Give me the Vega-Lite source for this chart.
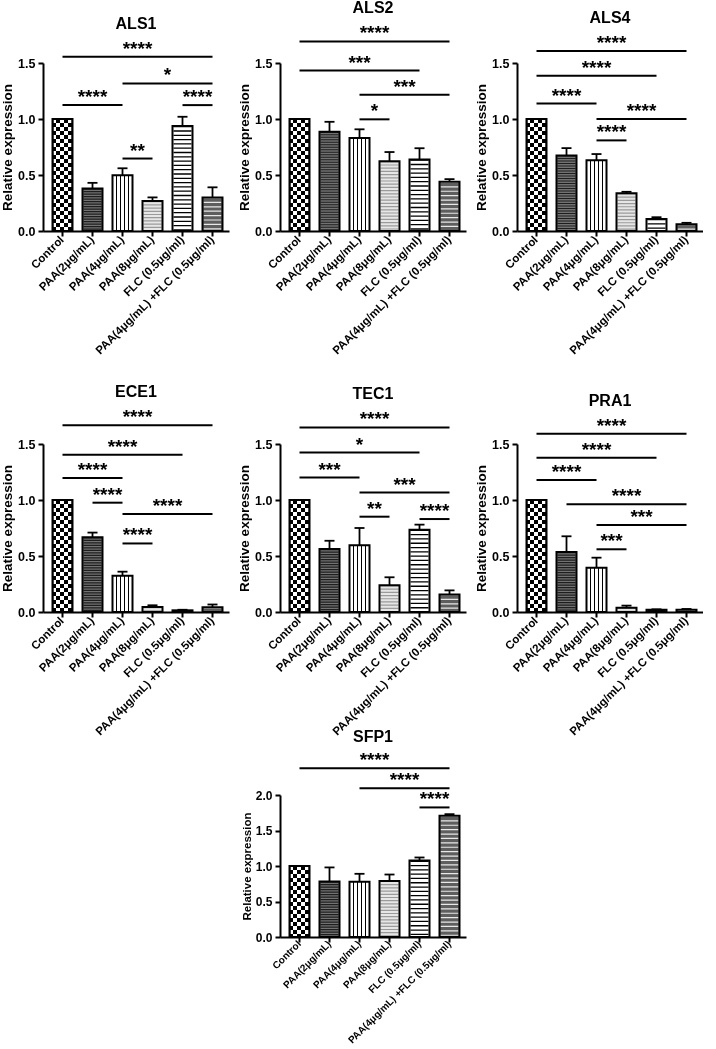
{
  "$schema": "https://vega.github.io/schema/vega-lite/v6.json",
  "padding": {"left": 0, "top": 0, "right": 0, "bottom": 0},
  "config": {
    "font": "Liberation Sans",
    "view": {"stroke": null},
    "axis": {"domainColor": "#000", "domainWidth": 2, "tickColor": "#000", "tickWidth": 2, "tickSize": 5, "labelColor": "#000", "labelFontWeight": "bold", "titleColor": "#000", "titleFontWeight": "bold", "grid": false, "labelOverlap": false},
    "axisX": {"labelAngle": -45, "labelFontSize": 11.5, "labelPadding": 2, "labelAlign": "right", "labelBaseline": "middle", "labelLimit": 220},
    "axisY": {"labelFontSize": 12.5, "titleFontSize": 13.5, "labelPadding": 3, "titlePadding": 3, "labelOverlap": false},
    "header": {"labelFontSize": 16, "labelFontWeight": "bold", "labelColor": "#000", "labelPadding": 8},
    "title": {"fontSize": 16, "fontWeight": "bold", "color": "#000"}
  },
  "datasets": {
    "main": [
      {"kind": "bar", "gene": "ALS1", "group": "Control", "value": 1, "hi": 1},
      {"kind": "bar", "gene": "ALS1", "group": "PAA(2μg/mL)", "value": 0.38, "hi": 0.43},
      {"kind": "bar", "gene": "ALS1", "group": "PAA(4μg/mL)", "value": 0.497, "hi": 0.56},
      {"kind": "bar", "gene": "ALS1", "group": "PAA(8μg/mL)", "value": 0.267, "hi": 0.30},
      {"kind": "bar", "gene": "ALS1", "group": "FLC (0.5μg/ml)", "value": 0.937, "hi": 1.02},
      {"kind": "bar", "gene": "ALS1", "group": "PAA(4μg/mL) +FLC (0.5μg/ml)", "value": 0.30, "hi": 0.39},
      {"kind": "bar", "gene": "ALS2", "group": "Control", "value": 1, "hi": 1},
      {"kind": "bar", "gene": "ALS2", "group": "PAA(2μg/mL)", "value": 0.887, "hi": 0.975},
      {"kind": "bar", "gene": "ALS2", "group": "PAA(4μg/mL)", "value": 0.83, "hi": 0.908},
      {"kind": "bar", "gene": "ALS2", "group": "PAA(8μg/mL)", "value": 0.623, "hi": 0.705},
      {"kind": "bar", "gene": "ALS2", "group": "FLC (0.5μg/ml)", "value": 0.638, "hi": 0.739},
      {"kind": "bar", "gene": "ALS2", "group": "PAA(4μg/mL) +FLC (0.5μg/ml)", "value": 0.439, "hi": 0.463},
      {"kind": "bar", "gene": "ALS4", "group": "Control", "value": 1, "hi": 1},
      {"kind": "bar", "gene": "ALS4", "group": "PAA(2μg/mL)", "value": 0.675, "hi": 0.74},
      {"kind": "bar", "gene": "ALS4", "group": "PAA(4μg/mL)", "value": 0.632, "hi": 0.687},
      {"kind": "bar", "gene": "ALS4", "group": "PAA(8μg/mL)", "value": 0.336, "hi": 0.35},
      {"kind": "bar", "gene": "ALS4", "group": "FLC (0.5μg/ml)", "value": 0.108, "hi": 0.123},
      {"kind": "bar", "gene": "ALS4", "group": "PAA(4μg/mL) +FLC (0.5μg/ml)", "value": 0.061, "hi": 0.073},
      {"kind": "bar", "gene": "ECE1", "group": "Control", "value": 1, "hi": 1},
      {"kind": "bar", "gene": "ECE1", "group": "PAA(2μg/mL)", "value": 0.667, "hi": 0.709},
      {"kind": "bar", "gene": "ECE1", "group": "PAA(4μg/mL)", "value": 0.324, "hi": 0.36},
      {"kind": "bar", "gene": "ECE1", "group": "PAA(8μg/mL)", "value": 0.045, "hi": 0.06},
      {"kind": "bar", "gene": "ECE1", "group": "FLC (0.5μg/ml)", "value": 0.015, "hi": 0.02},
      {"kind": "bar", "gene": "ECE1", "group": "PAA(4μg/mL) +FLC (0.5μg/ml)", "value": 0.042, "hi": 0.067},
      {"kind": "bar", "gene": "TEC1", "group": "Control", "value": 1, "hi": 1},
      {"kind": "bar", "gene": "TEC1", "group": "PAA(2μg/mL)", "value": 0.563, "hi": 0.636},
      {"kind": "bar", "gene": "TEC1", "group": "PAA(4μg/mL)", "value": 0.596, "hi": 0.75},
      {"kind": "bar", "gene": "TEC1", "group": "PAA(8μg/mL)", "value": 0.238, "hi": 0.31},
      {"kind": "bar", "gene": "TEC1", "group": "FLC (0.5μg/ml)", "value": 0.735, "hi": 0.78},
      {"kind": "bar", "gene": "TEC1", "group": "PAA(4μg/mL) +FLC (0.5μg/ml)", "value": 0.157, "hi": 0.193},
      {"kind": "bar", "gene": "PRA1", "group": "Control", "value": 1, "hi": 1},
      {"kind": "bar", "gene": "PRA1", "group": "PAA(2μg/mL)", "value": 0.536, "hi": 0.676},
      {"kind": "bar", "gene": "PRA1", "group": "PAA(4μg/mL)", "value": 0.396, "hi": 0.485},
      {"kind": "bar", "gene": "PRA1", "group": "PAA(8μg/mL)", "value": 0.039, "hi": 0.057},
      {"kind": "bar", "gene": "PRA1", "group": "FLC (0.5μg/ml)", "value": 0.021, "hi": 0.024},
      {"kind": "bar", "gene": "PRA1", "group": "PAA(4μg/mL) +FLC (0.5μg/ml)", "value": 0.021, "hi": 0.027},
      {"kind": "br", "gene": "ALS1", "from": "Control", "to": "PAA(4μg/mL) +FLC (0.5μg/ml)", "y": 1.555, "label": "****", "midE": "PAA(4μg/mL)"},
      {"kind": "br", "gene": "ALS1", "from": "PAA(4μg/mL)", "to": "PAA(4μg/mL) +FLC (0.5μg/ml)", "y": 1.318, "label": "*", "midE": "PAA(8μg/mL)"},
      {"kind": "br", "gene": "ALS1", "from": "Control", "to": "PAA(4μg/mL)", "y": 1.124, "label": "****", "midC": "PAA(2μg/mL)"},
      {"kind": "br", "gene": "ALS1", "from": "FLC (0.5μg/ml)", "to": "PAA(4μg/mL) +FLC (0.5μg/ml)", "y": 1.124, "label": "****", "midE": "FLC (0.5μg/ml)"},
      {"kind": "br", "gene": "ALS1", "from": "PAA(4μg/mL)", "to": "PAA(8μg/mL)", "y": 0.647, "label": "**", "midE": "PAA(4μg/mL)"},
      {"kind": "br", "gene": "ALS2", "from": "Control", "to": "PAA(4μg/mL) +FLC (0.5μg/ml)", "y": 1.692, "label": "****", "midE": "PAA(4μg/mL)"},
      {"kind": "br", "gene": "ALS2", "from": "Control", "to": "FLC (0.5μg/ml)", "y": 1.433, "label": "***", "midC": "PAA(4μg/mL)"},
      {"kind": "br", "gene": "ALS2", "from": "PAA(4μg/mL)", "to": "PAA(4μg/mL) +FLC (0.5μg/ml)", "y": 1.216, "label": "***", "midE": "PAA(8μg/mL)"},
      {"kind": "br", "gene": "ALS2", "from": "PAA(4μg/mL)", "to": "PAA(8μg/mL)", "y": 0.997, "label": "*", "midE": "PAA(4μg/mL)"},
      {"kind": "br", "gene": "ALS4", "from": "Control", "to": "PAA(4μg/mL) +FLC (0.5μg/ml)", "y": 1.607, "label": "****", "midE": "PAA(4μg/mL)"},
      {"kind": "br", "gene": "ALS4", "from": "Control", "to": "FLC (0.5μg/ml)", "y": 1.387, "label": "****", "midC": "PAA(4μg/mL)"},
      {"kind": "br", "gene": "ALS4", "from": "Control", "to": "PAA(4μg/mL)", "y": 1.138, "label": "****", "midC": "PAA(2μg/mL)"},
      {"kind": "br", "gene": "ALS4", "from": "PAA(4μg/mL)", "to": "PAA(4μg/mL) +FLC (0.5μg/ml)", "y": 1.0, "label": "****", "midE": "PAA(8μg/mL)"},
      {"kind": "br", "gene": "ALS4", "from": "PAA(4μg/mL)", "to": "PAA(8μg/mL)", "y": 0.809, "label": "****", "midE": "PAA(4μg/mL)"},
      {"kind": "br", "gene": "ECE1", "from": "Control", "to": "PAA(4μg/mL) +FLC (0.5μg/ml)", "y": 1.667, "label": "****", "midE": "PAA(4μg/mL)"},
      {"kind": "br", "gene": "ECE1", "from": "Control", "to": "FLC (0.5μg/ml)", "y": 1.403, "label": "****", "midC": "PAA(4μg/mL)"},
      {"kind": "br", "gene": "ECE1", "from": "Control", "to": "PAA(4μg/mL)", "y": 1.197, "label": "****", "midC": "PAA(2μg/mL)"},
      {"kind": "br", "gene": "ECE1", "from": "PAA(2μg/mL)", "to": "PAA(4μg/mL)", "y": 0.976, "label": "****", "midE": "PAA(2μg/mL)"},
      {"kind": "br", "gene": "ECE1", "from": "PAA(4μg/mL)", "to": "PAA(4μg/mL) +FLC (0.5μg/ml)", "y": 0.876, "label": "****", "midE": "PAA(8μg/mL)"},
      {"kind": "br", "gene": "ECE1", "from": "PAA(4μg/mL)", "to": "PAA(8μg/mL)", "y": 0.612, "label": "****", "midE": "PAA(4μg/mL)"},
      {"kind": "br", "gene": "TEC1", "from": "Control", "to": "PAA(4μg/mL) +FLC (0.5μg/ml)", "y": 1.648, "label": "****", "midE": "PAA(4μg/mL)"},
      {"kind": "br", "gene": "TEC1", "from": "Control", "to": "FLC (0.5μg/ml)", "y": 1.424, "label": "*", "midC": "PAA(4μg/mL)"},
      {"kind": "br", "gene": "TEC1", "from": "Control", "to": "PAA(4μg/mL)", "y": 1.2, "label": "***", "midC": "PAA(2μg/mL)"},
      {"kind": "br", "gene": "TEC1", "from": "PAA(4μg/mL)", "to": "PAA(4μg/mL) +FLC (0.5μg/ml)", "y": 1.066, "label": "***", "midE": "PAA(8μg/mL)"},
      {"kind": "br", "gene": "TEC1", "from": "PAA(4μg/mL)", "to": "PAA(8μg/mL)", "y": 0.851, "label": "**", "midE": "PAA(4μg/mL)"},
      {"kind": "br", "gene": "TEC1", "from": "FLC (0.5μg/ml)", "to": "PAA(4μg/mL) +FLC (0.5μg/ml)", "y": 0.83, "label": "****", "midE": "FLC (0.5μg/ml)"},
      {"kind": "br", "gene": "PRA1", "from": "Control", "to": "PAA(4μg/mL) +FLC (0.5μg/ml)", "y": 1.592, "label": "****", "midE": "PAA(4μg/mL)"},
      {"kind": "br", "gene": "PRA1", "from": "Control", "to": "FLC (0.5μg/ml)", "y": 1.378, "label": "****", "midC": "PAA(4μg/mL)"},
      {"kind": "br", "gene": "PRA1", "from": "Control", "to": "PAA(4μg/mL)", "y": 1.179, "label": "****", "midC": "PAA(2μg/mL)"},
      {"kind": "br", "gene": "PRA1", "from": "PAA(2μg/mL)", "to": "PAA(4μg/mL) +FLC (0.5μg/ml)", "y": 0.961, "label": "****", "midC": "PAA(8μg/mL)"},
      {"kind": "br", "gene": "PRA1", "from": "PAA(4μg/mL)", "to": "PAA(4μg/mL) +FLC (0.5μg/ml)", "y": 0.777, "label": "***", "midE": "PAA(8μg/mL)"},
      {"kind": "br", "gene": "PRA1", "from": "PAA(4μg/mL)", "to": "PAA(8μg/mL)", "y": 0.56, "label": "***", "midE": "PAA(4μg/mL)"}
    ],
    "sfp": [
      {"kind": "bar", "gene": "SFP1", "group": "Control", "value": 1, "hi": 1},
      {"kind": "bar", "gene": "SFP1", "group": "PAA(2μg/mL)", "value": 0.78, "hi": 0.98},
      {"kind": "bar", "gene": "SFP1", "group": "PAA(4μg/mL)", "value": 0.777, "hi": 0.89},
      {"kind": "bar", "gene": "SFP1", "group": "PAA(8μg/mL)", "value": 0.79, "hi": 0.88},
      {"kind": "bar", "gene": "SFP1", "group": "FLC (0.5μg/ml)", "value": 1.076, "hi": 1.12},
      {"kind": "bar", "gene": "SFP1", "group": "PAA(4μg/mL) +FLC (0.5μg/ml)", "value": 1.706, "hi": 1.73},
      {"kind": "br", "gene": "SFP1", "from": "Control", "to": "PAA(4μg/mL) +FLC (0.5μg/ml)", "y": 2.377, "label": "****", "midE": "PAA(4μg/mL)"},
      {"kind": "br", "gene": "SFP1", "from": "PAA(4μg/mL)", "to": "PAA(4μg/mL) +FLC (0.5μg/ml)", "y": 2.094, "label": "****", "midE": "PAA(8μg/mL)"},
      {"kind": "br", "gene": "SFP1", "from": "FLC (0.5μg/ml)", "to": "PAA(4μg/mL) +FLC (0.5μg/ml)", "y": 1.825, "label": "****", "midE": "FLC (0.5μg/ml)"}
    ]
  },
  "vconcat": [
    {
      "data": {"name": "main"},
      "facet": {"field": "gene", "type": "nominal", "sort": ["ALS1", "ALS2", "ALS4", "ECE1", "TEC1", "PRA1"], "header": {"title": null}},
      "columns": 3,
      "spacing": {"row": 27, "column": 8},
      "resolve": {"axis": {"x": "independent", "y": "independent"}},
      "spec": {
        "width": 186,
        "height": 168,
        "layer": [
          {
            "transform": [{"filter": "datum.kind === 'bar'"}],
            "mark": {"type": "bar", "width": 20},
            "encoding": {
              "x": {"field": "group", "type": "nominal", "sort": null, "title": null, "scale": {"domain": ["Control", "PAA(2μg/mL)", "PAA(4μg/mL)", "PAA(8μg/mL)", "FLC (0.5μg/ml)", "PAA(4μg/mL) +FLC (0.5μg/ml)"], "paddingInner": 0, "paddingOuter": 0.1, "align": 0.75}},
              "y": {"field": "value", "type": "quantitative", "title": "Relative expression", "scale": {"domain": [0, 1.5], "nice": false, "zero": true}, "axis": {"values": [0, 0.5, 1, 1.5], "format": ".1f"}},
              "fill": {
                "condition": [
                  {"test": "datum.group === 'Control'", "value": {"gradient": "linear", "x1": 0, "y1": 0, "x2": 1, "y2": 0, "stops": [{"offset": 0, "color": "#000"}, {"offset": 0.2, "color": "#000"}, {"offset": 0.2, "color": "#fff"}, {"offset": 0.4, "color": "#fff"}, {"offset": 0.4, "color": "#000"}, {"offset": 0.6, "color": "#000"}, {"offset": 0.6, "color": "#fff"}, {"offset": 0.8, "color": "#fff"}, {"offset": 0.8, "color": "#000"}, {"offset": 1, "color": "#000"}]}},
                  {"test": "datum.group === 'PAA(2μg/mL)'", "value": "#727272"},
                  {"test": "datum.group === 'PAA(4μg/mL)'", "value": {"gradient": "linear", "x1": 0, "y1": 0, "x2": 1, "y2": 0, "stops": [{"offset": 0, "color": "#fff"}, {"offset": 0.17, "color": "#fff"}, {"offset": 0.17, "color": "#000"}, {"offset": 0.23, "color": "#000"}, {"offset": 0.23, "color": "#fff"}, {"offset": 0.37, "color": "#fff"}, {"offset": 0.37, "color": "#000"}, {"offset": 0.43, "color": "#000"}, {"offset": 0.43, "color": "#fff"}, {"offset": 0.57, "color": "#fff"}, {"offset": 0.57, "color": "#000"}, {"offset": 0.63, "color": "#000"}, {"offset": 0.63, "color": "#fff"}, {"offset": 0.77, "color": "#fff"}, {"offset": 0.77, "color": "#000"}, {"offset": 0.83, "color": "#000"}, {"offset": 0.83, "color": "#fff"}, {"offset": 1, "color": "#fff"}]}},
                  {"test": "datum.group === 'PAA(8μg/mL)'", "value": "#e6e6e6"},
                  {"test": "datum.group === 'PAA(4μg/mL) +FLC (0.5μg/ml)'", "value": "#5e5e5e"}
                ],
                "value": "#ffffff"
              }
            }
          },
          {
            "transform": [{"filter": "datum.kind === 'bar' && datum.group === 'Control'"}],
            "mark": {"type": "rule", "strokeWidth": 18, "stroke": "#ffffff", "strokeDash": [4, 4], "blend": "difference"},
            "encoding": {
              "x": {"field": "group", "type": "nominal", "title": null},
              "y": {"field": "value", "type": "quantitative", "title": "Relative expression", "scale": {"domain": [0, 1.5], "nice": false, "zero": true}},
              "y2": {"datum": 0}
            }
          },
          {
            "transform": [{"filter": "datum.kind === 'bar' && datum.group !== 'Control' && datum.group !== 'PAA(4μg/mL)'"}],
            "mark": {"type": "rule", "strokeWidth": 18},
            "encoding": {
              "x": {"field": "group", "type": "nominal", "title": null},
              "y": {"field": "value", "type": "quantitative", "title": "Relative expression", "scale": {"domain": [0, 1.5], "nice": false, "zero": true}},
              "y2": {"datum": 0},
              "stroke": {"condition": [{"test": "datum.group === 'PAA(2μg/mL)'", "value": "#1e1e1e"}, {"test": "datum.group === 'PAA(8μg/mL)'", "value": "#9a9a9a"}, {"test": "datum.group === 'FLC (0.5μg/ml)'", "value": "#000000"}], "value": "#e8e8e8"},
              "strokeDash": {"condition": [{"test": "datum.group === 'PAA(2μg/mL)'", "value": [1.2, 1.3]}, {"test": "datum.group === 'PAA(8μg/mL)'", "value": [1.2, 2]}, {"test": "datum.group === 'FLC (0.5μg/ml)'", "value": [1.3, 3]}], "value": [1.2, 3.2]}
            }
          },
          {
            "transform": [{"filter": "datum.kind === 'bar'"}],
            "mark": {"type": "bar", "width": 20, "fill": "transparent", "stroke": "#000", "strokeWidth": 2},
            "encoding": {
              "x": {"field": "group", "type": "nominal", "title": null},
              "y": {"field": "value", "type": "quantitative", "title": "Relative expression", "scale": {"domain": [0, 1.5], "nice": false, "zero": true}}
            }
          },
          {
            "transform": [{"filter": "datum.kind === 'bar'"}],
            "mark": {"type": "rule", "strokeWidth": 1.8, "color": "#000"},
            "encoding": {
              "x": {"field": "group", "type": "nominal", "title": null},
              "y": {"field": "value", "type": "quantitative", "title": "Relative expression", "scale": {"domain": [0, 1.5], "nice": false, "zero": true}},
              "y2": {"field": "hi"}
            }
          },
          {
            "transform": [{"filter": "datum.kind === 'bar'"}],
            "mark": {"type": "tick", "orient": "horizontal", "size": 10, "thickness": 1.8, "color": "#000", "opacity": 1},
            "encoding": {
              "x": {"field": "group", "type": "nominal", "title": null},
              "y": {"field": "hi", "type": "quantitative", "title": "Relative expression", "scale": {"domain": [0, 1.5], "nice": false, "zero": true}}
            }
          },
          {
            "transform": [{"filter": "datum.kind === 'br'"}],
            "mark": {"type": "rule", "strokeWidth": 2, "color": "#000"},
            "encoding": {
              "x": {"field": "from", "type": "nominal", "title": null, "bandPosition": 0.5},
              "x2": {"field": "to"},
              "y": {"field": "y", "type": "quantitative", "title": "Relative expression", "scale": {"domain": [0, 1.5], "nice": false, "zero": true}}
            }
          },
          {
            "transform": [{"filter": "datum.kind === 'br' && datum.midC != null"}],
            "mark": {"type": "text", "fontSize": 19, "fontWeight": "bold", "align": "center", "baseline": "alphabetic", "dy": -2, "color": "#000"},
            "encoding": {
              "x": {"field": "midC", "type": "nominal", "title": null, "bandPosition": 0.5},
              "y": {"field": "y", "type": "quantitative", "title": "Relative expression", "scale": {"domain": [0, 1.5], "nice": false, "zero": true}},
              "text": {"field": "label"}
            }
          },
          {
            "transform": [{"filter": "datum.kind === 'br' && datum.midE != null"}],
            "mark": {"type": "text", "fontSize": 19, "fontWeight": "bold", "align": "center", "baseline": "alphabetic", "dy": -2, "color": "#000"},
            "encoding": {
              "x": {"field": "midE", "type": "nominal", "title": null, "bandPosition": 1},
              "y": {"field": "y", "type": "quantitative", "title": "Relative expression", "scale": {"domain": [0, 1.5], "nice": false, "zero": true}},
              "text": {"field": "label"}
            }
          }
        ]
      }
    },
    {
      "data": {"name": "sfp"},
      "title": {"text": "SFP1", "offset": 6},
      "width": 186,
      "height": 142,
      "layer": [
        {
          "transform": [{"filter": "datum.kind === 'bar'"}],
          "mark": {"type": "bar", "width": 20},
          "encoding": {
            "x": {"field": "group", "type": "nominal", "sort": null, "title": null, "scale": {"domain": ["Control", "PAA(2μg/mL)", "PAA(4μg/mL)", "PAA(8μg/mL)", "FLC (0.5μg/ml)", "PAA(4μg/mL) +FLC (0.5μg/ml)"], "paddingInner": 0, "paddingOuter": 0.1, "align": 0.75}, "axis": {"labelFontSize": 10, "labelPadding": 0}},
            "y": {"field": "value", "type": "quantitative", "title": "Relative expression", "scale": {"domain": [0, 2], "nice": false, "zero": true}, "axis": {"values": [0, 0.5, 1, 1.5, 2], "tickCount": 5, "labelOverlap": false, "format": ".1f", "titleFontSize": 11.5, "labelFontSize": 12}},
            "fill": {
              "condition": [
                {"test": "datum.group === 'Control'", "value": {"gradient": "linear", "x1": 0, "y1": 0, "x2": 1, "y2": 0, "stops": [{"offset": 0, "color": "#000"}, {"offset": 0.2, "color": "#000"}, {"offset": 0.2, "color": "#fff"}, {"offset": 0.4, "color": "#fff"}, {"offset": 0.4, "color": "#000"}, {"offset": 0.6, "color": "#000"}, {"offset": 0.6, "color": "#fff"}, {"offset": 0.8, "color": "#fff"}, {"offset": 0.8, "color": "#000"}, {"offset": 1, "color": "#000"}]}},
                {"test": "datum.group === 'PAA(2μg/mL)'", "value": "#727272"},
                {"test": "datum.group === 'PAA(4μg/mL)'", "value": {"gradient": "linear", "x1": 0, "y1": 0, "x2": 1, "y2": 0, "stops": [{"offset": 0, "color": "#fff"}, {"offset": 0.17, "color": "#fff"}, {"offset": 0.17, "color": "#000"}, {"offset": 0.23, "color": "#000"}, {"offset": 0.23, "color": "#fff"}, {"offset": 0.37, "color": "#fff"}, {"offset": 0.37, "color": "#000"}, {"offset": 0.43, "color": "#000"}, {"offset": 0.43, "color": "#fff"}, {"offset": 0.57, "color": "#fff"}, {"offset": 0.57, "color": "#000"}, {"offset": 0.63, "color": "#000"}, {"offset": 0.63, "color": "#fff"}, {"offset": 0.77, "color": "#fff"}, {"offset": 0.77, "color": "#000"}, {"offset": 0.83, "color": "#000"}, {"offset": 0.83, "color": "#fff"}, {"offset": 1, "color": "#fff"}]}},
                {"test": "datum.group === 'PAA(8μg/mL)'", "value": "#e6e6e6"},
                {"test": "datum.group === 'PAA(4μg/mL) +FLC (0.5μg/ml)'", "value": "#5e5e5e"}
              ],
              "value": "#ffffff"
            }
          }
        },
        {
          "transform": [{"filter": "datum.kind === 'bar' && datum.group === 'Control'"}],
          "mark": {"type": "rule", "strokeWidth": 18, "stroke": "#ffffff", "strokeDash": [4, 4], "blend": "difference"},
          "encoding": {
            "x": {"field": "group", "type": "nominal", "title": null},
            "y": {"field": "value", "type": "quantitative", "title": "Relative expression", "scale": {"domain": [0, 2], "nice": false, "zero": true}},
            "y2": {"datum": 0}
          }
        },
        {
          "transform": [{"filter": "datum.kind === 'bar' && datum.group !== 'Control' && datum.group !== 'PAA(4μg/mL)'"}],
          "mark": {"type": "rule", "strokeWidth": 18},
          "encoding": {
            "x": {"field": "group", "type": "nominal", "title": null},
            "y": {"field": "value", "type": "quantitative", "title": "Relative expression", "scale": {"domain": [0, 2], "nice": false, "zero": true}},
            "y2": {"datum": 0},
            "stroke": {"condition": [{"test": "datum.group === 'PAA(2μg/mL)'", "value": "#1e1e1e"}, {"test": "datum.group === 'PAA(8μg/mL)'", "value": "#9a9a9a"}, {"test": "datum.group === 'FLC (0.5μg/ml)'", "value": "#000000"}], "value": "#e8e8e8"},
            "strokeDash": {"condition": [{"test": "datum.group === 'PAA(2μg/mL)'", "value": [1.2, 1.3]}, {"test": "datum.group === 'PAA(8μg/mL)'", "value": [1.2, 2]}, {"test": "datum.group === 'FLC (0.5μg/ml)'", "value": [1.3, 3]}], "value": [1.2, 3.2]}
          }
        },
        {
          "transform": [{"filter": "datum.kind === 'bar'"}],
          "mark": {"type": "bar", "width": 20, "fill": "transparent", "stroke": "#000", "strokeWidth": 2},
          "encoding": {
            "x": {"field": "group", "type": "nominal", "title": null},
            "y": {"field": "value", "type": "quantitative", "title": "Relative expression", "scale": {"domain": [0, 2], "nice": false, "zero": true}}
          }
        },
        {
          "transform": [{"filter": "datum.kind === 'bar'"}],
          "mark": {"type": "rule", "strokeWidth": 1.8, "color": "#000"},
          "encoding": {
            "x": {"field": "group", "type": "nominal", "title": null},
            "y": {"field": "value", "type": "quantitative", "title": "Relative expression", "scale": {"domain": [0, 2], "nice": false, "zero": true}},
            "y2": {"field": "hi"}
          }
        },
        {
          "transform": [{"filter": "datum.kind === 'bar'"}],
          "mark": {"type": "tick", "orient": "horizontal", "size": 10, "thickness": 1.8, "color": "#000", "opacity": 1},
          "encoding": {
            "x": {"field": "group", "type": "nominal", "title": null},
            "y": {"field": "hi", "type": "quantitative", "title": "Relative expression", "scale": {"domain": [0, 2], "nice": false, "zero": true}}
          }
        },
        {
          "transform": [{"filter": "datum.kind === 'br'"}],
          "mark": {"type": "rule", "strokeWidth": 2, "color": "#000"},
          "encoding": {
            "x": {"field": "from", "type": "nominal", "title": null, "bandPosition": 0.5},
            "x2": {"field": "to"},
            "y": {"field": "y", "type": "quantitative", "title": "Relative expression", "scale": {"domain": [0, 2], "nice": false, "zero": true}}
          }
        },
        {
          "transform": [{"filter": "datum.kind === 'br' && datum.midE != null"}],
          "mark": {"type": "text", "fontSize": 19, "fontWeight": "bold", "align": "center", "baseline": "alphabetic", "dy": -2, "color": "#000"},
          "encoding": {
            "x": {"field": "midE", "type": "nominal", "title": null, "bandPosition": 1},
            "y": {"field": "y", "type": "quantitative", "title": "Relative expression", "scale": {"domain": [0, 2], "nice": false, "zero": true}},
            "text": {"field": "label"}
          }
        }
      ]
    }
  ],
  "center": true,
  "spacing": -9
}
